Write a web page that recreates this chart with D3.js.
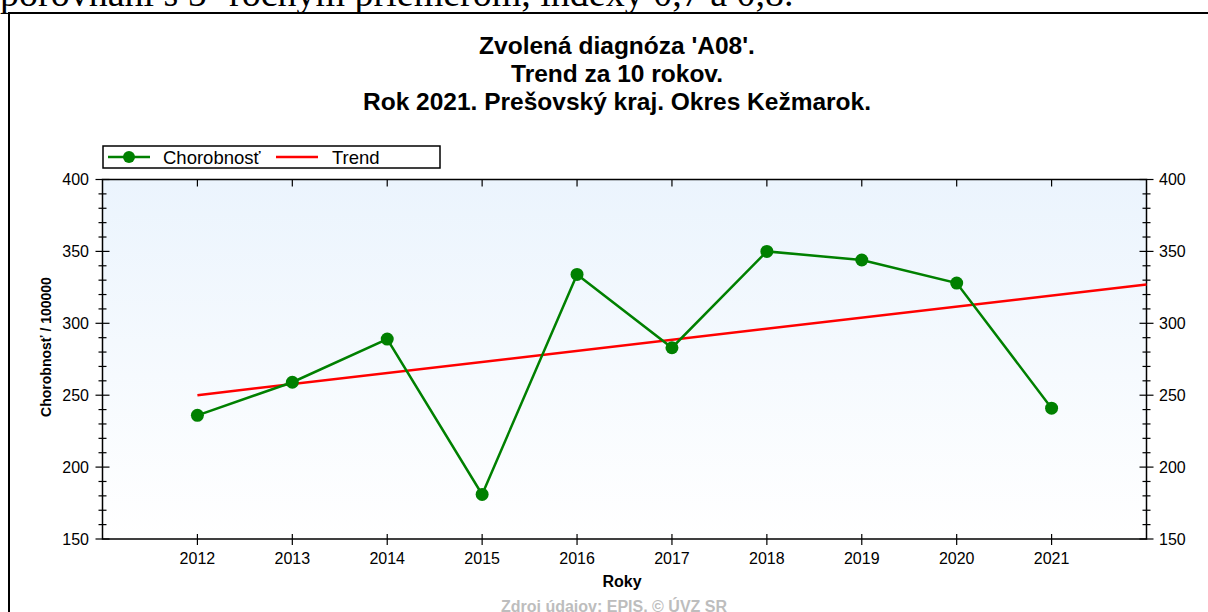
<!DOCTYPE html>
<html>
<head>
<meta charset="utf-8">
<script src="https://cdn.jsdelivr.net/npm/d3@7"></script>
<style>
  body { margin: 0; background: #fff; }
  svg { display: block; }
</style>
</head>
<body>
<div id="chart"></div>
<script>
const years = [2012, 2013, 2014, 2015, 2016, 2017, 2018, 2019, 2020, 2021];
const chorobnost = [236, 259, 289, 181, 334, 283, 350, 344, 328, 241];
// trend line (start and end)
const trendYears = [2012, 2022];
const trendValues = [250, 327];
const yTicks = [150, 200, 250, 300, 350, 400];
const titleLines = ["Zvolená diagnóza 'A08'.", "Trend za 10 rokov.", "Rok 2021. Prešovský kraj. Okres Kežmarok."];

const width = 1208;
const height = 612;
const plot = { left: 102.5, right: 1146.5, top: 179.5, bottom: 539 };

const svg = d3.select("#chart").append("svg")
  .attr("width", width)
  .attr("height", height)
  .style("font-family", "'Liberation Sans', Arial, sans-serif");

// text cut from the document above the chart
svg.append("text")
  .attr("x", 0)
  .attr("y", 6)
  .style("font-family", "'Liberation Serif', 'Times New Roman', serif")
  .style("font-size", "38px")
  .text("porovnaní s 5- ročným priemerom, indexy 0,7 a 0,8.");

// chart frame
svg.append("rect")
  .attr("x", 9).attr("y", 13)
  .attr("width", 1210).attr("height", 610)
  .attr("fill", "#fff");
svg.append("path")
  .attr("d", "M9,613 V13 H1210")
  .attr("fill", "none")
  .attr("stroke", "#000")
  .attr("stroke-width", 2);

// title
svg.append("g").selectAll("text")
  .data(titleLines)
  .enter().append("text")
  .attr("x", 617)
  .attr("y", (d, i) => 54 + i * 28)
  .attr("text-anchor", "middle")
  .style("font-weight", "bold")
  .style("font-size", "24.5px")
  .text(d => d);

const x = d3.scaleLinear().domain([2011, 2022]).range([plot.left, plot.right]);
const y = d3.scaleLinear().domain([150, 400]).range([plot.bottom, plot.top]);

const defs = svg.append("defs");
const grad = defs.append("linearGradient")
  .attr("id", "bg")
  .attr("x1", 0).attr("y1", 0).attr("x2", 0).attr("y2", 1);
grad.append("stop").attr("offset", "0%").attr("stop-color", "#ebf4fd");
grad.append("stop").attr("offset", "100%").attr("stop-color", "#ffffff");

svg.append("rect")
  .attr("x", plot.left)
  .attr("y", plot.top)
  .attr("width", plot.right - plot.left)
  .attr("height", plot.bottom - plot.top)
  .attr("fill", "url(#bg)");

// plot border
svg.append("rect")
  .attr("x", plot.left)
  .attr("y", plot.top)
  .attr("width", plot.right - plot.left)
  .attr("height", plot.bottom - plot.top)
  .attr("fill", "none")
  .attr("stroke", "#000")
  .attr("stroke-width", 1.5);

const minorTicks = d3.range(150, 401, 10);

// left and right axes
[plot.left, plot.right].forEach(ax => {
  const g = svg.append("g").attr("stroke", "#000").attr("stroke-width", 1.2);
  minorTicks.forEach(v => {
    const major = v % 50 === 0;
    const len = major ? 7 : 4;
    g.append("line")
      .attr("x1", ax - len).attr("x2", ax + len)
      .attr("y1", y(v)).attr("y2", y(v));
  });
});

svg.append("g").selectAll("text")
  .data(yTicks)
  .enter().append("text")
  .attr("x", 89)
  .attr("y", d => y(d) + 5.5)
  .attr("text-anchor", "end")
  .style("font-size", "16px")
  .text(d => d);

svg.append("g").selectAll("text")
  .data(yTicks)
  .enter().append("text")
  .attr("x", 1159)
  .attr("y", d => y(d) + 5.5)
  .style("font-size", "16px")
  .text(d => d);

// bottom and top ticks
const xt = svg.append("g").attr("stroke", "#000").attr("stroke-width", 1.2);
years.forEach(yr => {
  xt.append("line")
    .attr("x1", x(yr)).attr("x2", x(yr))
    .attr("y1", plot.bottom - 5).attr("y2", plot.bottom + 6);
  xt.append("line")
    .attr("x1", x(yr)).attr("x2", x(yr))
    .attr("y1", plot.top).attr("y2", plot.top + 7);
});

svg.append("g").selectAll("text")
  .data(years)
  .enter().append("text")
  .attr("x", d => x(d))
  .attr("y", 564)
  .attr("text-anchor", "middle")
  .style("font-size", "16px")
  .text(d => d);

// axis titles
svg.append("text")
  .attr("transform", "translate(51," + 347 + ") rotate(-90)")
  .attr("text-anchor", "middle")
  .style("font-weight", "bold")
  .style("font-size", "14px")
  .text("Chorobnosť / 100000");

svg.append("text")
  .attr("x", 622)
  .attr("y", 587)
  .attr("text-anchor", "middle")
  .style("font-weight", "bold")
  .style("font-size", "16px")
  .text("Roky");

svg.append("text")
  .attr("x", 614)
  .attr("y", 612)
  .attr("text-anchor", "middle")
  .attr("fill", "#bdbdbd")
  .style("font-weight", "bold")
  .style("font-size", "16px")
  .text("Zdroj údajov: EPIS, © ÚVZ SR");

// trend
const line = d3.line().x(d => x(d[0])).y(d => y(d[1]));
svg.append("path")
  .datum(trendYears.map((yr, i) => [yr, trendValues[i]]))
  .attr("d", line)
  .attr("fill", "none")
  .attr("stroke", "#ff0000")
  .attr("stroke-width", 2.5);

// chorobnost series
svg.append("path")
  .datum(years.map((yr, i) => [yr, chorobnost[i]]))
  .attr("d", line)
  .attr("fill", "none")
  .attr("stroke", "#008000")
  .attr("stroke-width", 2.5);

svg.append("g").selectAll("circle")
  .data(years.map((yr, i) => [yr, chorobnost[i]]))
  .enter().append("circle")
  .attr("cx", d => x(d[0]))
  .attr("cy", d => y(d[1]))
  .attr("r", 6.5)
  .attr("fill", "#008000");

// legend
const lg = svg.append("g");
lg.append("rect")
  .attr("x", 103).attr("y", 146)
  .attr("width", 337).attr("height", 22)
  .attr("fill", "#fff")
  .attr("stroke", "#000")
  .attr("stroke-width", 1.5);
lg.append("line")
  .attr("x1", 108).attr("x2", 150).attr("y1", 157).attr("y2", 157)
  .attr("stroke", "#008000").attr("stroke-width", 2.5);
lg.append("circle")
  .attr("cx", 129).attr("cy", 157).attr("r", 6)
  .attr("fill", "#008000");
lg.append("text")
  .attr("x", 163).attr("y", 163.5)
  .style("font-size", "18.5px")
  .text("Chorobnosť");
lg.append("line")
  .attr("x1", 276).attr("x2", 318).attr("y1", 157).attr("y2", 157)
  .attr("stroke", "#ff0000").attr("stroke-width", 2.5);
lg.append("text")
  .attr("x", 332).attr("y", 163.5)
  .style("font-size", "18.5px")
  .text("Trend");
</script>
</body>
</html>
